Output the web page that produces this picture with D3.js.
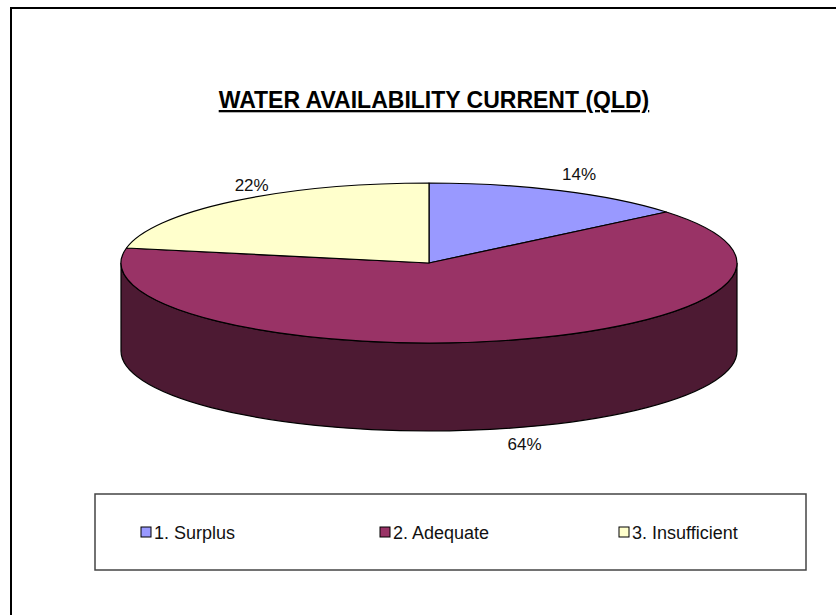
<!DOCTYPE html>
<html>
<head>
<meta charset="utf-8">
<script src="https://cdn.jsdelivr.net/npm/d3@7"></script>
<style>
	body { margin: 0; background: #fff; }
	svg { display: block; }
</style>
</head>
<body>
<div id="chart"></div>
<script>
var W = 836, H = 615;

var title = "WATER AVAILABILITY CURRENT (QLD)";
var categories = ["1. Surplus", "2. Adequate", "3. Insufficient"];
var values = [14, 64, 22];
var colors = ["#9999ff", "#993366", "#ffffcc"];

var font = "Arial, 'Liberation Sans', Helvetica, sans-serif";

// pie geometry (flattened ellipse + side depth)
var cx = 429, cy = 263, rx = 308, ry = 80, depth = 88;

var svg = d3.select("#chart").append("svg")
	.attr("width", W)
	.attr("height", H);

svg.append("rect")
	.attr("x", 11).attr("y", 8)
	.attr("width", W).attr("height", H)
	.attr("fill", "#fff")
	.attr("stroke", "#000")
	.attr("stroke-width", 2);

svg.append("text")
	.attr("x", 434)
	.attr("y", 108)
	.attr("text-anchor", "middle")
	.style("font-family", font)
	.style("font-size", "23px")
	.style("font-weight", "bold")
	.style("text-decoration", "underline")
	.text(title);

var pie = d3.pie().sort(null).value(d => d)
	.startAngle(0).endAngle(2 * Math.PI);
var arcs = pie(values);

function pt(a, dy) {
	return [cx + rx * Math.sin(a), cy - ry * Math.cos(a) + (dy || 0)];
}

function topPath(d) {
	var p0 = pt(d.startAngle), p1 = pt(d.endAngle);
	var large = d.endAngle - d.startAngle > Math.PI ? 1 : 0;
	return "M" + cx + "," + cy + "L" + p0 + "A" + rx + "," + ry + " 0 " + large + " 1 " + p1 + "Z";
}

// only the front half of the rim is visible
function sidePath(d) {
	var s = Math.max(d.startAngle, Math.PI / 2);
	var e = Math.min(d.endAngle, 3 * Math.PI / 2);
	if(e <= s) return null;
	var a = pt(s), b = pt(e), b2 = pt(e, depth), a2 = pt(s, depth);
	return "M" + a + "A" + rx + "," + ry + " 0 0 1 " + b + "L" + b2 +
		"A" + rx + "," + ry + " 0 0 0 " + a2 + "Z";
}

function sideColor(c) {
	var k = d3.rgb(c);
	return d3.rgb(k.r * 0.5, k.g * 0.5, k.b * 0.5).toString();
}

var g = svg.append("g");

g.selectAll("path.side")
	.data(arcs.filter(d => sidePath(d)))
	.enter()
	.append("path")
	.attr("class", "side")
	.attr("d", sidePath)
	.attr("fill", d => sideColor(colors[d.index]))
	.attr("stroke", "#000")
	.attr("stroke-width", 1.2);

g.selectAll("path.top")
	.data(arcs)
	.enter()
	.append("path")
	.attr("class", "top")
	.attr("d", topPath)
	.attr("fill", d => colors[d.index])
	.attr("stroke", "#000")
	.attr("stroke-width", 1.2)
	.attr("stroke-linejoin", "round");

g.selectAll("text.lbl")
	.data(arcs)
	.enter()
	.append("text")
	.attr("class", "lbl")
	.attr("x", d => {
		var m = (d.startAngle + d.endAngle) / 2;
		return pt(m)[0] + 19;
	})
	.attr("y", d => {
		var m = (d.startAngle + d.endAngle) / 2;
		var front = Math.cos(m) < 0;
		return pt(m, front ? depth + 16 : -16)[1];
	})
	.attr("text-anchor", "middle")
	.attr("dominant-baseline", "central")
	.style("font-family", font)
	.style("font-size", "17px")
	.attr("fill", "#111")
	.text(d => d3.format(".0%")(d.data / d3.sum(values)));

// legend
var lx = 95, ly = 494, lw = 711, lh = 76;
svg.append("rect")
	.attr("x", lx).attr("y", ly)
	.attr("width", lw).attr("height", lh)
	.attr("fill", "#fff")
	.attr("stroke", "#444")
	.attr("stroke-width", 1.5);

var itemX = d3.scaleLinear().domain([0, 1]).range([lx + 46, lx + 46 + 239]);

var items = svg.selectAll("g.item")
	.data(categories)
	.enter()
	.append("g")
	.attr("class", "item")
	.attr("transform", (d, i) => "translate(" + itemX(i) + "," + (ly + lh / 2) + ")");

items.append("rect")
	.attr("x", 0).attr("y", -5)
	.attr("width", 10).attr("height", 10)
	.attr("fill", (d, i) => colors[i])
	.attr("stroke", "#000")
	.attr("stroke-width", 1);

items.append("text")
	.attr("x", 13)
	.attr("y", 1)
	.attr("dominant-baseline", "central")
	.style("font-family", font)
	.style("font-size", "18px")
	.attr("fill", "#111")
	.text(d => d);
</script>
</body>
</html>
